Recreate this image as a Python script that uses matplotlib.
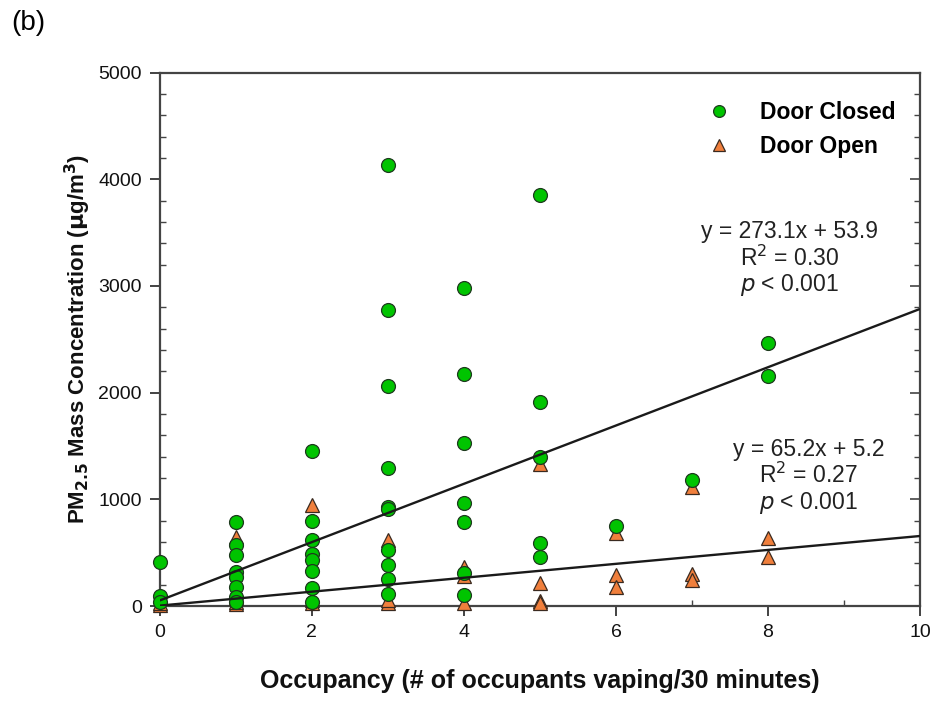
"""Occupancy vs PM2.5 mass concentration, door closed / door open."""
import matplotlib
matplotlib.use("Agg")
import matplotlib.pyplot as plt
import numpy as np
from matplotlib.ticker import MultipleLocator

plt.rcParams["font.family"] = ["Liberation Sans", "DejaVu Sans"]

# Door closed: occupancy and concentration (ug/m3)
closed_x = [0, 0, 0,
            1, 1, 1, 1, 1, 1, 1, 1,
            2, 2, 2, 2, 2, 2, 2, 2,
            3, 3, 3, 3, 3, 3, 3, 3, 3, 3,
            4, 4, 4, 4, 4, 4, 4,
            5, 5, 5, 5, 5,
            6, 7, 8, 8]
closed_y = [410, 94, 40,
            790, 575, 481, 324, 273, 182, 88, 40,
            1456, 802, 623, 488, 434, 333, 173, 40,
            4135, 2774, 2060, 1295, 930, 907, 522, 387, 252, 110,
            2978, 2176, 1528, 969, 786, 308, 104,
            3855, 1912, 1393, 591, 465,
            755, 1179, 2462, 2157]

# Door open
open_x = [0, 0,
          1, 1, 1, 1,
          2, 2, 2,
          3, 3, 3,
          4, 4, 4,
          5, 5, 5, 5,
          6, 6, 6,
          7, 7, 7,
          8, 8]
open_y = [10, 30,
          644, 20, 40, 80,
          946, 30, 60,
          623, 31, 60,
          371, 280, 25,
          1330, 214, 50, 25,
          686, 292, 182,
          1120, 299, 245,
          639, 465]

# regression coefficients (slope, intercept) as printed on the chart
fit_closed = (273.1, 53.9)
fit_open = (65.2, 5.2)

fig = plt.figure(figsize=(9.35, 7.04), dpi=100)
ax = fig.add_axes([0.171, 0.139, 0.813, 0.758])

p_open, = ax.plot(open_x, open_y, ls="none", marker="^", ms=10,
                  mfc="#f07f3c", mec="#3a2a20", mew=0.9, zorder=3,
                  clip_on=False, label="Door Open")
p_closed, = ax.plot(closed_x, closed_y, ls="none", marker="o", ms=10,
                    mfc="#00c400", mec="#1e3a1e", mew=0.9, zorder=4,
                    clip_on=False, label="Door Closed")

xs = np.array([0, 10])
ax.plot(xs, fit_closed[0] * xs + fit_closed[1], color="#1a1a1a", lw=1.7, zorder=5)
ax.plot(xs, fit_open[0] * xs + fit_open[1], color="#1a1a1a", lw=1.7, zorder=5)

ax.set_xlim(0, 10)
ax.set_ylim(0, 5000)
ax.xaxis.set_major_locator(MultipleLocator(2))
ax.xaxis.set_minor_locator(MultipleLocator(1))
ax.yaxis.set_major_locator(MultipleLocator(1000))
ax.yaxis.set_minor_locator(MultipleLocator(200))
ax.tick_params(which="major", direction="out", length=7, width=1.2,
               labelsize=14, colors="#222", labelcolor="#111", pad=6)
ax.tick_params(which="minor", direction="in", length=4, width=1.0, colors="#444")
for s in ax.spines.values():
    s.set_linewidth(1.6)
    s.set_color("#444")

# right-hand ticks point inward
ax2 = ax.twinx()
ax2.set_ylim(0, 5000)
ax2.yaxis.set_major_locator(MultipleLocator(1000))
ax2.yaxis.set_minor_locator(MultipleLocator(200))
ax2.tick_params(which="major", direction="in", length=7, width=1.2,
                colors="#444", labelright=False)
ax2.tick_params(which="minor", direction="in", length=4, width=1.0, colors="#444")
for s in ax2.spines.values():
    s.set_visible(False)

ax.set_xlabel("Occupancy (# of occupants vaping/30 minutes)",
              fontsize=18, fontweight="bold", labelpad=20, color="#111")
ax.set_ylabel("PM$_{\\mathbf{2.5}}$ Mass Concentration ($\\mathbf{\\mu}$g/m$^\\mathbf{3}$)",
              fontsize=16, fontweight="bold", labelpad=4, color="#111")

ax.legend(handles=[p_closed, p_open], loc="upper left", frameon=False,
          bbox_to_anchor=(0.72, 0.946), borderaxespad=0, borderpad=0,
          handlelength=1.0, handletextpad=1.3, labelspacing=0.45,
          markerscale=0.85, prop={"weight": "bold", "size": 16.5})

ax.text(8.28, 3249, "y = 273.1x + 53.9\nR$^2$ = 0.30\n$p$ < 0.001",
        ha="center", va="center", fontsize=16.5, linespacing=1.1, color="#222")
ax.text(8.53, 1210, "y = 65.2x + 5.2\nR$^2$ = 0.27\n$p$ < 0.001",
        ha="center", va="center", fontsize=16.5, linespacing=1.1, color="#222")

fig.text(0.012, 0.968, "(b)", fontsize=20, va="center", ha="left")

fig.savefig("out.png", dpi=100)
